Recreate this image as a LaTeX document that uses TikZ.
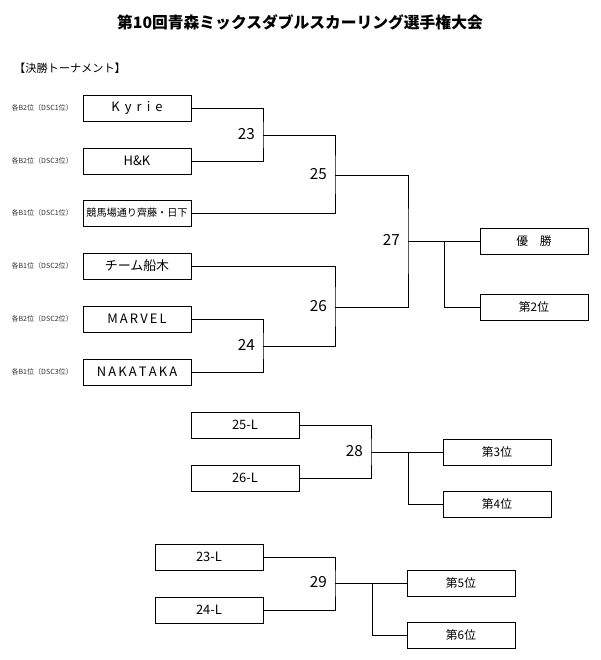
\documentclass[tikz,border=0pt]{standalone}
\usepackage{fontspec}
\setmainfont{Noto Sans CJK JP}
\usetikzlibrary{positioning}
\tikzset{
  team/.style={draw, thick, minimum width=108*0.85pt, minimum height=26*0.85pt, inner sep=0pt, font=\fontsize{11}{12}\selectfont},
  place/.style={team, font=\fontsize{10}{11}\selectfont},
  seed/.style={anchor=east, font=\fontsize{6}{7}\selectfont, text=black!80},
  game/.style={anchor=east, font=\fontsize{13}{14}\selectfont},
  line/.style={thick},
}
\begin{document}
\begin{tikzpicture}[x=0.85pt, y=-0.85pt]
  \useasboundingbox (0,0) rectangle (600,660);
  \node[font=\fontsize{13.4}{15}\selectfont\bfseries] (title) at (300,22) {第10回青森ミックスダブルスカーリング選手権大会};
  \node[anchor=west, font=\fontsize{9.5}{11}\selectfont] (head) at (10,68) {【決勝トーナメント】};

  % main bracket
  \node[team] (kyrie) at (137,108) {K\, y\, r\, i\, e};
  \node[team] (hk) at (137,161) {H\&K};
  \node[team, font=\fontsize{8.6}{9}\selectfont] (keiba) at (137,213) {競馬場通り齊藤・日下};
  \node[team] (funaki) at (137,266) {チーム船木};
  \node[team] (marvel) at (137,319) {M\,A\,R\,V\,E\,L};
  \node[team] (naka) at (137,372) {N\,A\,K\,A\,T\,A\,K\,A};
  \node[seed] at (77,108) {各B2位（DSC1位）};
  \node[seed] at (77,161) {各B2位（DSC3位）};
  \node[seed] at (77,213) {各B1位（DSC1位）};
  \node[seed] at (77,266) {各B1位（DSC2位）};
  \node[seed] at (77,319) {各B2位（DSC2位）};
  \node[seed] at (77,372) {各B1位（DSC3位）};

  \coordinate (g23) at (263,135);
  \coordinate (g24) at (263,346);
  \coordinate (g25) at (335,175);
  \coordinate (g26) at (335,307);
  \coordinate (g27) at (408,241);
  \node[game] at (259,134) {23};
  \node[game] at (259,345) {24};
  \node[game] at (331,174) {25};
  \node[game] at (331,306) {26};
  \node[game] at (404,240) {27};
  \draw[line] (kyrie.east) -| (g23) |- (hk.east);
  \draw[line] (marvel.east) -| (g24) |- (naka.east);
  \draw[line] (g23) -| (g25) |- (keiba.east);
  \draw[line] (funaki.east) -| (g26) |- (g24);
  \draw[line] (g25) -| (g27) |- (g26);

  \node[place] (first) at (534,241) {優\quad 勝};
  \node[place] (second) at (534,307) {第2位};
  \coordinate (b27) at (444,241);
  \draw[line] (g27) -- (first.west);
  \draw[line] (b27) |- (second.west);

  % 3rd place
  \node[team] (l25) at (245,425) {25-L};
  \node[team] (l26) at (245,478) {26-L};
  \coordinate (g28) at (371,452);
  \node[game] at (367,451) {28};
  \draw[line] (l25.east) -| (g28) |- (l26.east);
  \node[place] (third) at (497,452) {第3位};
  \node[place] (fourth) at (497,504) {第4位};
  \coordinate (b28) at (408,452);
  \draw[line] (g28) -- (third.west);
  \draw[line] (b28) |- (fourth.west);

  % 5th place
  \node[team] (l23) at (209,557) {23-L};
  \node[team] (l24) at (209,610) {24-L};
  \coordinate (g29) at (335,583);
  \node[game] at (331,582) {29};
  \draw[line] (l23.east) -| (g29) |- (l24.east);
  \node[place] (fifth) at (461,583) {第5位};
  \node[place] (sixth) at (461,635) {第6位};
  \coordinate (b29) at (372,583);
  \draw[line] (g29) -- (fifth.west);
  \draw[line] (b29) |- (sixth.west);
\end{tikzpicture}
\end{document}
